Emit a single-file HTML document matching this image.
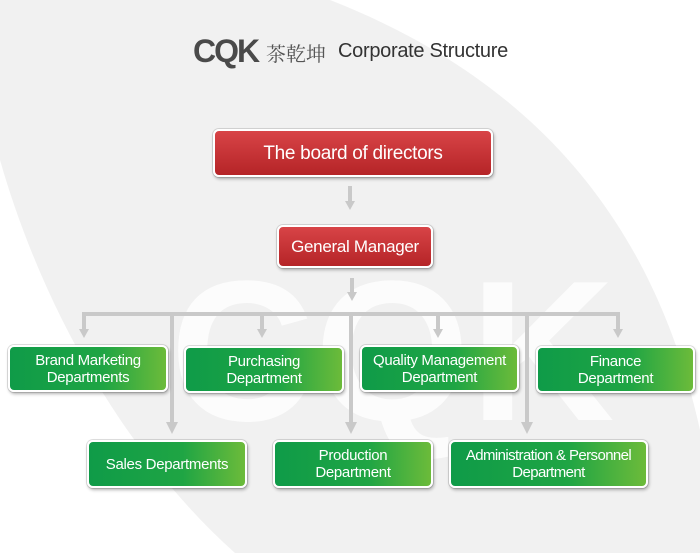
<!DOCTYPE html>
<html><head><meta charset="utf-8"><style>
body{margin:0;width:700px;height:553px;overflow:hidden;font-family:"Liberation Sans","Noto Sans CJK SC",sans-serif;}
.wrap{position:relative;width:700px;height:553px;background:#f1f1f1;}
.b{position:absolute;box-sizing:border-box;border:2px solid #fff;border-radius:6px;color:#fff;display:flex;align-items:center;justify-content:center;text-align:center;box-shadow:0 0 0 1px rgba(0,0,0,0.12),1px 2px 3px rgba(0,0,0,0.3);line-height:17px;font-size:15px;letter-spacing:-0.3px;}
.r{background:linear-gradient(#d84447,#b52427);}
.g{background:linear-gradient(90deg,#0f9b48,#1fa544 60%,#6cbb3a);}
</style></head><body><div class="wrap">
<svg width="700" height="553" style="position:absolute;left:0;top:0">
<path d="M330,0 L700,0 L700,430 C660,250 560,90 330,0 Z" fill="#fff"/>
<path d="M0,160 C40,300 120,450 235,553 L0,553 Z" fill="#fff"/>
<text x="170" y="420" font-family="Liberation Sans" font-weight="bold" font-size="200" fill="#fff" opacity="0.85">CQK</text>
<g fill="#c9c9c9" stroke="none">
<rect x="348" y="186" width="4" height="16"/><polygon points="345,201 355,201 350,210"/>
<rect x="350" y="278" width="4" height="16"/><polygon points="347,292 357,292 352,301"/>
<rect x="82" y="312" width="538" height="4"/>
<rect x="82" y="312" width="4" height="18"/><polygon points="79,329 89,329 84,338"/>
<rect x="260" y="312" width="4" height="18"/><polygon points="257,329 267,329 262,338"/>
<rect x="436" y="312" width="4" height="18"/><polygon points="433,329 443,329 438,338"/>
<rect x="616" y="312" width="4" height="18"/><polygon points="613,329 623,329 618,338"/>
<rect x="170" y="312" width="4" height="112"/><polygon points="166,422 178,422 172,434"/>
<rect x="349" y="312" width="4" height="112"/><polygon points="345,422 357,422 351,434"/>
<rect x="525" y="312" width="4" height="112"/><polygon points="521,422 533,422 527,434"/>
</g>
</svg>
<div style="position:absolute;left:193px;top:33px;font-size:32px;font-weight:bold;color:#4a4a4a;letter-spacing:-2px">CQK</div>
<div style="position:absolute;left:266px;top:38px;font-size:20px;color:#555;font-family:'Noto Serif CJK SC',serif">茶乾坤</div>
<div style="position:absolute;left:338px;top:40px;font-size:20px;color:#333;letter-spacing:-0.3px">Corporate Structure</div>
<div class="b r" style="left:213px;top:129px;width:280px;height:48px;font-size:19px">The board of directors</div>
<div class="b r" style="left:277px;top:225px;width:156px;height:43px;font-size:17px">General Manager</div>
<div class="b g" style="left:8px;top:345px;width:160px;height:47px">Brand Marketing<br>Departments</div>
<div class="b g" style="left:184px;top:346px;width:160px;height:47px">Purchasing<br>Department</div>
<div class="b g" style="left:360px;top:345px;width:159px;height:47px">Quality Management<br>Department</div>
<div class="b g" style="left:536px;top:346px;width:159px;height:47px">Finance<br>Department</div>
<div class="b g" style="left:87px;top:440px;width:160px;height:48px">Sales Departments</div>
<div class="b g" style="left:273px;top:440px;width:160px;height:48px">Production<br>Department</div>
<div class="b g" style="left:449px;top:440px;width:199px;height:48px;letter-spacing:-0.6px">Administration &amp; Personnel<br>Department</div>
</div></body></html>
